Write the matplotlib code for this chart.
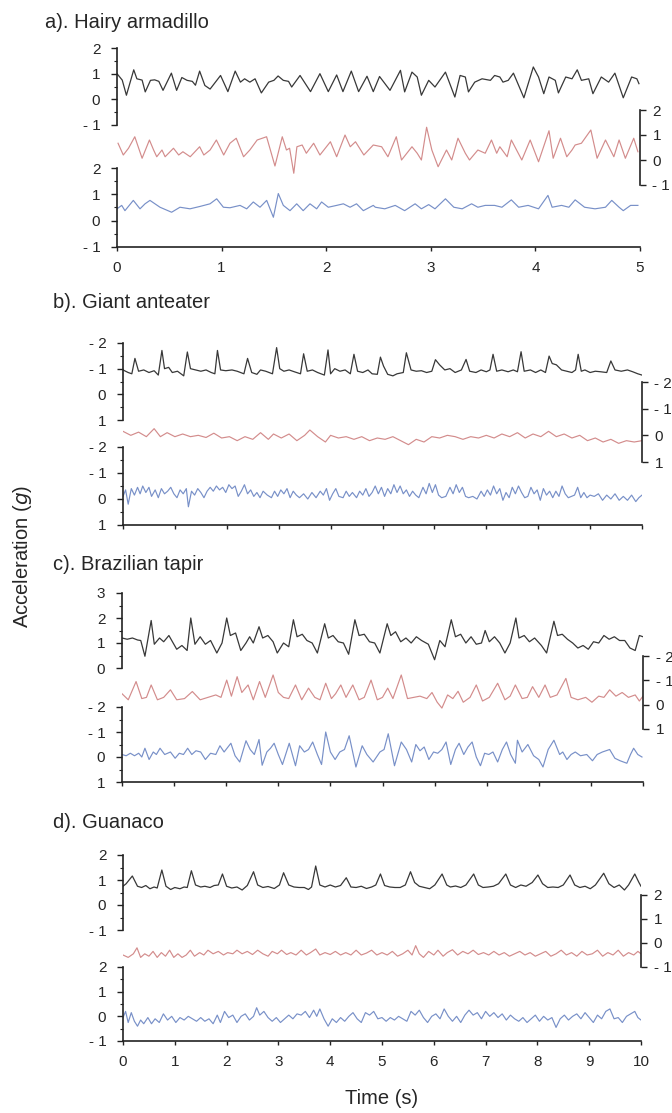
import matplotlib
matplotlib.use("Agg")
import matplotlib.pyplot as plt
from matplotlib.ticker import MultipleLocator

plt.rcParams['font.family'] = ['Liberation Sans', 'DejaVu Sans']

# ---------------- data (time s, acceleration g) ----------------
a_black = [(0.00,1.00),(0.05,0.75),(0.09,0.16),(0.16,1.15),(0.19,0.80),(0.24,0.75),(0.27,0.29),(0.32,0.74),(0.36,0.76),(0.40,0.70),(0.44,0.35),(0.52,1.02),(0.57,0.35),(0.62,0.85),(0.67,0.74),(0.72,0.70),(0.75,0.55),(0.79,1.10),(0.84,0.54),(0.89,0.40),(0.99,0.93),(1.06,0.30),(1.13,1.10),(1.18,0.67),(1.22,0.80),(1.27,0.67),(1.32,0.80),(1.38,0.25),(1.45,0.67),(1.50,0.74),(1.54,0.91),(1.59,0.74),(1.64,0.70),(1.67,0.48),(1.75,0.93),(1.85,0.30),(1.94,1.00),(2.02,0.30),(2.10,0.95),(2.16,0.30),(2.24,1.10),(2.31,0.30),(2.39,0.90),(2.45,0.30),(2.51,0.89),(2.61,0.35),(2.71,1.13),(2.75,0.29),(2.82,1.06),(2.87,0.87),(2.91,0.16),(2.98,0.74),(3.04,0.48),(3.14,1.06),(3.23,0.09),(3.28,0.93),(3.33,0.87),(3.36,0.29),(3.42,0.67),(3.49,0.80),(3.57,0.74),(3.61,0.93),(3.66,0.87),(3.69,0.67),(3.74,0.74),(3.79,1.02),(3.89,0.06),(3.98,1.26),(4.03,0.87),(4.08,0.22),(4.13,0.87),(4.19,0.74),(4.22,0.25),(4.29,0.87),(4.35,0.80),(4.40,1.15),(4.44,0.74),(4.51,0.80),(4.55,0.22),(4.63,0.87),(4.70,0.67),(4.76,1.02),(4.84,0.06),(4.92,0.87),(4.97,0.80),(4.99,0.61)]
a_red = [(0.01,0.67),(0.06,0.20),(0.11,0.47),(0.17,0.93),(0.24,0.07),(0.31,0.80),(0.35,0.40),(0.38,0.13),(0.43,0.40),(0.46,0.13),(0.54,0.47),(0.59,0.20),(0.63,0.33),(0.70,0.13),(0.79,0.53),(0.83,0.20),(0.89,0.40),(0.95,0.80),(1.02,0.20),(1.08,0.67),(1.14,0.87),(1.21,0.13),(1.27,0.40),(1.34,0.80),(1.43,0.93),(1.51,-0.24),(1.58,0.93),(1.62,0.40),(1.65,0.47),(1.69,-0.53),(1.72,0.53),(1.77,0.60),(1.81,0.27),(1.88,0.67),(1.94,0.20),(2.04,0.73),(2.10,0.13),(2.18,1.00),(2.23,0.53),(2.28,0.73),(2.36,0.20),(2.45,0.60),(2.53,0.53),(2.59,0.13),(2.67,0.93),(2.72,0.00),(2.82,0.53),(2.87,0.27),(2.91,0.00),(2.96,1.31),(3.01,0.40),(3.07,-0.27),(3.15,0.40),(3.20,0.00),(3.26,0.87),(3.33,0.27),(3.37,0.00),(3.45,0.40),(3.52,0.27),(3.58,0.80),(3.63,0.27),(3.66,0.53),(3.73,0.13),(3.77,0.80),(3.87,0.00),(3.95,0.80),(4.03,-0.07),(4.13,1.17),(4.17,0.07),(4.24,0.87),(4.30,0.13),(4.35,0.40),(4.38,0.60),(4.44,0.67),(4.53,1.20),(4.59,0.07),(4.67,0.80),(4.75,0.13),(4.80,0.80),(4.86,0.07),(4.94,0.87),(4.98,0.33)]
a_blue = [(0.00,0.45),(0.045,0.58),(0.076,0.38),(0.156,0.77),(0.22,0.45),(0.268,0.64),(0.315,0.77),(0.411,0.51),(0.522,0.32),(0.602,0.51),(0.698,0.45),(0.793,0.54),(0.889,0.64),(0.953,0.83),(1.017,0.51),(1.08,0.49),(1.176,0.58),(1.24,0.45),(1.303,0.71),(1.367,0.51),(1.431,0.77),(1.495,0.13),(1.542,1.03),(1.59,0.58),(1.654,0.38),(1.718,0.64),(1.78,0.38),(1.845,0.64),(1.909,0.45),(1.956,0.71),(2.02,0.51),(2.10,0.58),(2.164,0.64),(2.228,0.51),(2.29,0.64),(2.355,0.38),(2.45,0.58),(2.47,0.51),(2.56,0.45),(2.66,0.58),(2.75,0.38),(2.85,0.64),(2.91,0.45),(2.98,0.61),(3.04,0.45),(3.14,0.83),(3.22,0.51),(3.30,0.45),(3.39,0.64),(3.45,0.51),(3.52,0.58),(3.61,0.58),(3.68,0.51),(3.77,0.79),(3.84,0.51),(3.93,0.58),(4.03,0.45),(4.12,0.96),(4.16,0.51),(4.25,0.58),(4.32,0.51),(4.38,0.79),(4.47,0.51),(4.57,0.45),(4.67,0.51),(4.73,0.77),(4.80,0.51),(4.84,0.38),(4.91,0.58),(4.98,0.58)]

b_black = [(0.00,-0.95),(0.10,-0.85),(0.17,-0.80),(0.23,-1.40),(0.30,-0.90),(0.40,-0.95),(0.50,-0.85),(0.60,-0.92),(0.68,-0.75),(0.75,-1.71),(0.80,-1.00),(0.88,-1.05),(0.95,-0.85),(1.05,-0.90),(1.17,-0.72),(1.24,-1.65),(1.30,-1.00),(1.40,-0.95),(1.50,-0.90),(1.60,-0.95),(1.70,-0.85),(1.77,-0.80),(1.82,-1.71),(1.88,-0.95),(1.98,-0.92),(2.10,-0.95),(2.20,-0.90),(2.33,-0.80),(2.40,-1.40),(2.48,-0.85),(2.58,-0.78),(2.65,-0.95),(2.75,-0.90),(2.88,-0.80),(2.96,-1.82),(3.02,-1.00),(3.10,-0.90),(3.20,-0.95),(3.30,-0.88),(3.42,-0.80),(3.48,-1.58),(3.55,-0.90),(3.65,-0.95),(3.75,-0.85),(3.88,-0.75),(3.95,-1.73),(4.00,-0.80),(4.08,-1.00),(4.18,-0.90),(4.28,-0.95),(4.38,-0.80),(4.45,-1.56),(4.52,-0.90),(4.62,-0.85),(4.72,-0.95),(4.80,-0.80),(4.90,-0.78),(4.96,-1.45),(5.02,-1.10),(5.10,-0.78),(5.20,-0.72),(5.28,-0.80),(5.40,-0.85),(5.46,-1.62),(5.55,-0.95),(5.65,-0.90),(5.75,-0.92),(5.85,-0.85),(5.95,-0.90),(6.02,-1.35),(6.10,-1.15),(6.20,-0.95),(6.30,-1.00),(6.40,-0.85),(6.52,-0.95),(6.61,-1.36),(6.68,-0.90),(6.80,-0.85),(6.90,-0.95),(7.00,-0.88),(7.07,-0.95),(7.13,-1.56),(7.20,-0.90),(7.30,-0.95),(7.42,-0.88),(7.52,-0.95),(7.60,-0.88),(7.67,-1.66),(7.73,-0.90),(7.85,-0.95),(7.95,-0.85),(8.05,-0.95),(8.14,-0.85),(8.21,-1.49),(8.27,-1.20),(8.35,-1.15),(8.45,-0.95),(8.55,-0.90),(8.65,-0.85),(8.72,-0.95),(8.77,-1.56),(8.83,-0.90),(8.90,-0.95),(9.00,-0.85),(9.10,-0.90),(9.20,-0.88),(9.32,-0.85),(9.40,-1.30),(9.48,-0.95),(9.60,-0.90),(9.72,-0.95),(9.82,-0.88),(9.92,-0.80),(10.0,-0.75)]
b_red = [(0.0,-0.15),(0.15,0.00),(0.3,-0.12),(0.45,0.05),(0.6,-0.25),(0.72,0.05),(0.85,-0.10),(1.0,0.05),(1.15,-0.05),(1.3,0.05),(1.45,0.00),(1.6,0.08),(1.75,-0.08),(1.9,0.10),(2.05,0.05),(2.2,0.20),(2.35,0.05),(2.5,0.15),(2.65,-0.10),(2.8,0.15),(2.9,-0.05),(3.05,0.10),(3.2,-0.05),(3.35,0.20),(3.5,0.00),(3.6,-0.20),(3.75,0.05),(3.9,0.25),(4.0,0.00),(4.15,0.10),(4.3,0.05),(4.45,0.15),(4.6,0.05),(4.75,0.20),(4.9,0.10),(5.05,0.15),(5.2,0.05),(5.35,0.20),(5.5,0.35),(5.65,0.15),(5.8,0.25),(5.95,0.05),(6.1,0.10),(6.25,0.00),(6.4,0.05),(6.55,0.15),(6.7,0.05),(6.85,0.10),(7.0,0.00),(7.15,0.10),(7.3,-0.05),(7.45,0.05),(7.6,-0.10),(7.75,0.10),(7.9,-0.05),(8.05,0.05),(8.2,-0.15),(8.35,0.05),(8.5,-0.05),(8.65,0.10),(8.8,0.00),(8.95,0.20),(9.1,0.10),(9.25,0.25),(9.4,0.15),(9.55,0.30),(9.7,0.20),(9.85,0.25),(10.0,0.20)]
b_blue = [(0.00,-0.10),(0.05,-0.35),(0.10,0.20),(0.16,-0.40),(0.22,-0.15),(0.28,-0.45),(0.33,-0.20),(0.38,-0.50),(0.44,-0.25),(0.50,-0.45),(0.55,-0.10),(0.62,-0.35),(0.68,-0.05),(0.74,-0.40),(0.80,-0.20),(0.86,-0.30),(0.92,-0.45),(0.98,-0.20),(1.04,-0.05),(1.10,-0.35),(1.16,-0.20),(1.22,-0.40),(1.26,0.30),(1.32,-0.30),(1.38,-0.15),(1.44,-0.40),(1.50,-0.25),(1.56,-0.05),(1.62,-0.30),(1.68,-0.45),(1.74,-0.30),(1.80,-0.50),(1.86,-0.35),(1.92,-0.45),(1.98,-0.25),(2.04,-0.55),(2.10,-0.40),(2.16,-0.50),(2.22,-0.10),(2.28,-0.30),(2.34,-0.55),(2.40,-0.20),(2.46,-0.35),(2.52,-0.10),(2.58,-0.25),(2.64,-0.05),(2.70,-0.30),(2.78,-0.15),(2.86,-0.05),(2.92,-0.30),(2.98,-0.10),(3.04,-0.35),(3.10,-0.20),(3.16,-0.40),(3.22,-0.05),(3.28,-0.30),(3.34,-0.15),(3.40,-0.05),(3.48,-0.20),(3.56,0.00),(3.64,-0.25),(3.72,-0.05),(3.80,-0.30),(3.86,-0.15),(3.92,-0.40),(3.98,0.05),(4.04,-0.20),(4.10,-0.40),(4.16,-0.10),(4.24,-0.05),(4.30,-0.30),(4.36,-0.10),(4.42,-0.25),(4.50,-0.05),(4.56,-0.30),(4.62,-0.15),(4.68,-0.40),(4.74,-0.10),(4.80,-0.25),(4.86,-0.50),(4.92,-0.20),(4.98,-0.45),(5.04,-0.10),(5.10,-0.40),(5.16,-0.20),(5.22,-0.55),(5.28,-0.25),(5.34,-0.50),(5.40,-0.20),(5.46,-0.35),(5.52,-0.10),(5.58,-0.30),(5.64,-0.15),(5.70,-0.05),(5.78,-0.45),(5.84,-0.20),(5.90,-0.60),(5.96,-0.25),(6.02,-0.55),(6.08,-0.15),(6.14,-0.05),(6.22,-0.10),(6.30,-0.45),(6.36,-0.20),(6.42,-0.55),(6.48,-0.25),(6.54,-0.45),(6.60,-0.10),(6.66,-0.05),(6.74,-0.10),(6.82,0.00),(6.90,-0.30),(6.96,-0.10),(7.02,-0.35),(7.08,-0.15),(7.14,-0.50),(7.20,-0.20),(7.26,-0.40),(7.32,0.05),(7.38,-0.25),(7.44,-0.05),(7.50,-0.45),(7.56,-0.20),(7.62,-0.50),(7.68,-0.25),(7.74,-0.05),(7.80,-0.10),(7.86,-0.45),(7.92,-0.20),(7.98,-0.35),(8.04,0.05),(8.10,-0.40),(8.16,-0.15),(8.22,-0.30),(8.28,-0.05),(8.34,-0.30),(8.40,-0.10),(8.46,-0.50),(8.52,-0.20),(8.58,-0.05),(8.64,-0.10),(8.70,-0.15),(8.76,-0.45),(8.82,-0.05),(8.88,-0.25),(8.94,-0.05),(9.00,-0.15),(9.08,-0.10),(9.16,-0.20),(9.24,0.05),(9.32,-0.15),(9.40,0.00),(9.48,-0.20),(9.56,0.05),(9.64,-0.10),(9.72,0.05),(9.80,-0.15),(9.88,0.10),(9.94,-0.05),(10.0,-0.15)]

c_black = [(0.00,1.20),(0.10,1.15),(0.20,1.20),(0.30,1.12),(0.36,1.10),(0.44,0.47),(0.56,1.90),(0.62,0.95),(0.72,1.20),(0.80,1.05),(0.90,1.30),(1.05,0.75),(1.15,0.90),(1.25,0.70),(1.32,2.00),(1.40,0.95),(1.50,1.25),(1.60,0.95),(1.70,1.10),(1.82,0.60),(1.92,1.00),(2.01,2.00),(2.08,1.30),(2.18,1.40),(2.28,0.70),(2.38,1.00),(2.45,1.25),(2.52,1.00),(2.63,1.65),(2.70,1.20),(2.80,1.30),(2.90,1.05),(2.98,0.60),(3.10,1.00),(3.20,0.85),(3.29,1.93),(3.36,1.25),(3.46,1.35),(3.55,1.10),(3.65,1.00),(3.75,0.60),(3.89,1.77),(3.96,1.20),(4.05,1.30),(4.15,1.05),(4.25,1.00),(4.35,0.55),(4.47,1.93),(4.55,1.30),(4.65,1.35),(4.75,1.05),(4.85,1.00),(4.95,0.60),(5.09,1.77),(5.16,1.30),(5.25,1.45),(5.35,1.05),(5.45,1.20),(5.55,1.00),(5.65,1.25),(5.75,1.10),(5.88,0.95),(6.00,0.33),(6.10,1.10),(6.20,0.85),(6.32,1.93),(6.40,1.25),(6.50,1.35),(6.60,1.00),(6.70,1.25),(6.80,0.95),(6.90,1.00),(6.97,1.50),(7.05,1.05),(7.15,1.25),(7.25,1.00),(7.35,0.60),(7.45,1.00),(7.56,2.00),(7.62,1.20),(7.72,1.30),(7.82,1.05),(7.92,1.20),(8.05,0.90),(8.15,0.60),(8.29,1.87),(8.36,1.30),(8.45,1.35),(8.55,1.15),(8.65,1.00),(8.75,0.80),(8.85,0.90),(8.95,0.75),(9.05,1.05),(9.15,1.00),(9.25,1.30),(9.35,1.15),(9.45,1.25),(9.55,1.10),(9.65,1.10),(9.75,0.80),(9.85,0.70),(9.93,1.30),(10.00,1.25)]
c_red = [(0.00,-0.45),(0.12,-0.20),(0.27,-0.95),(0.38,-0.25),(0.47,-0.30),(0.56,-0.81),(0.68,-0.20),(0.80,-0.30),(0.93,-0.61),(1.05,-0.20),(1.20,-0.25),(1.35,-0.54),(1.50,-0.20),(1.65,-0.30),(1.80,-0.40),(1.90,-0.30),(2.01,-1.01),(2.10,-0.35),(2.21,-1.15),(2.30,-0.50),(2.42,-0.81),(2.52,-0.20),(2.64,-0.95),(2.75,-0.30),(2.90,-1.22),(3.00,-0.50),(3.10,-0.30),(3.20,-0.25),(3.33,-0.81),(3.45,-0.20),(3.58,-0.68),(3.70,-0.30),(3.80,-0.20),(3.91,-0.88),(4.02,-0.25),(4.10,-0.45),(4.20,-0.81),(4.30,-0.30),(4.43,-0.81),(4.55,-0.20),(4.65,-0.30),(4.78,-1.01),(4.90,-0.20),(5.00,-0.30),(5.10,-0.68),(5.20,-0.25),(5.36,-1.22),(5.48,-0.25),(5.60,-0.30),(5.72,-0.35),(5.85,-0.25),(5.95,-0.50),(6.05,-0.10),(6.14,0.14),(6.25,-0.40),(6.35,-0.25),(6.45,-0.55),(6.55,-0.10),(6.68,-0.30),(6.80,-0.81),(6.92,-0.15),(7.05,-0.30),(7.21,-0.88),(7.35,-0.20),(7.45,-0.35),(7.55,-0.81),(7.68,-0.25),(7.78,-0.30),(7.88,-0.74),(8.00,-0.30),(8.12,-0.81),(8.22,-0.30),(8.35,-0.40),(8.52,-1.08),(8.62,-0.30),(8.75,-0.20),(8.90,-0.30),(9.02,-0.10),(9.15,-0.35),(9.25,-0.30),(9.36,-0.61),(9.48,-0.35),(9.60,-0.50),(9.72,-0.30),(9.85,-0.40),(9.93,-0.15),(10.00,-0.35)]
c_blue = [(0.00,-0.10),(0.08,-0.05),(0.16,-0.15),(0.24,-0.05),(0.32,-0.15),(0.38,0.00),(0.44,-0.35),(0.52,0.10),(0.60,-0.20),(0.66,-0.10),(0.73,-0.35),(0.82,-0.10),(0.93,-0.20),(1.02,0.05),(1.10,-0.15),(1.18,-0.10),(1.26,-0.35),(1.34,-0.10),(1.42,-0.25),(1.51,-0.20),(1.60,0.10),(1.70,-0.15),(1.80,-0.10),(1.88,-0.45),(1.96,-0.20),(2.09,-0.55),(2.17,-0.05),(2.26,0.20),(2.38,-0.65),(2.46,-0.30),(2.54,-0.10),(2.63,-0.70),(2.69,0.33),(2.78,-0.20),(2.85,-0.35),(2.92,-0.55),(3.00,-0.10),(3.08,0.30),(3.21,-0.55),(3.27,-0.10),(3.33,0.35),(3.41,-0.45),(3.50,-0.20),(3.58,-0.30),(3.66,-0.60),(3.75,-0.10),(3.83,0.30),(3.91,-1.00),(4.00,-0.20),(4.09,0.10),(4.18,-0.20),(4.27,-0.30),(4.36,-0.85),(4.49,0.40),(4.61,-0.45),(4.70,-0.10),(4.82,0.20),(4.95,-0.20),(5.03,-0.30),(5.11,-0.93),(5.23,0.35),(5.36,-0.60),(5.46,-0.30),(5.56,0.20),(5.64,-0.50),(5.72,-0.25),(5.80,-0.40),(5.89,0.10),(5.98,-0.20),(6.06,-0.15),(6.14,-0.30),(6.22,-0.60),(6.31,0.30),(6.40,-0.30),(6.47,-0.55),(6.56,-0.10),(6.64,-0.40),(6.72,-0.60),(6.80,0.00),(6.88,0.35),(6.96,-0.15),(7.04,-0.10),(7.12,-0.20),(7.21,0.20),(7.30,-0.30),(7.38,-0.60),(7.46,-0.10),(7.55,0.25),(7.59,-0.67),(7.68,-0.20),(7.79,-0.50),(7.90,-0.05),(8.00,0.10),(8.08,0.40),(8.18,-0.30),(8.29,-0.67),(8.40,-0.10),(8.46,-0.20),(8.54,0.10),(8.62,-0.10),(8.70,-0.20),(8.80,-0.05),(8.92,-0.10),(9.03,0.15),(9.12,-0.10),(9.22,-0.20),(9.36,-0.30),(9.46,0.05),(9.56,0.15),(9.69,0.25),(9.76,-0.10),(9.82,-0.35),(9.90,-0.10),(9.98,0.00)]

d_black = [(0.00,0.75),(0.06,0.85),(0.18,1.16),(0.28,0.75),(0.36,0.70),(0.44,0.78),(0.52,0.65),(0.60,0.72),(0.66,0.68),(0.75,1.40),(0.83,0.75),(0.92,0.62),(1.00,0.70),(1.10,0.65),(1.18,0.72),(1.24,0.70),(1.32,1.37),(1.40,0.80),(1.50,0.72),(1.58,0.75),(1.68,0.70),(1.76,0.78),(1.84,0.80),(1.92,1.24),(2.00,0.75),(2.10,0.68),(2.20,0.72),(2.30,0.60),(2.40,0.78),(2.52,1.33),(2.60,0.80),(2.70,0.70),(2.80,0.74),(2.92,0.66),(3.02,0.80),(3.10,1.29),(3.20,0.80),(3.30,0.72),(3.40,0.70),(3.50,0.70),(3.58,0.62),(3.64,0.72),(3.72,1.56),(3.80,0.80),(3.90,0.72),(4.00,0.80),(4.10,0.72),(4.20,0.78),(4.31,1.09),(4.40,0.72),(4.50,0.70),(4.60,0.75),(4.70,0.66),(4.80,0.72),(4.88,0.80),(4.97,1.24),(5.05,0.78),(5.15,0.72),(5.25,0.70),(5.35,0.70),(5.45,0.80),(5.55,1.33),(5.63,0.90),(5.72,0.75),(5.82,0.70),(5.92,0.65),(6.02,0.80),(6.16,1.24),(6.25,0.80),(6.32,0.72),(6.42,0.76),(6.52,0.70),(6.62,0.80),(6.77,1.24),(6.86,0.80),(6.95,0.70),(7.05,0.72),(7.15,0.75),(7.25,0.85),(7.39,1.24),(7.48,0.80),(7.58,0.70),(7.68,0.80),(7.78,0.75),(7.90,0.90),(8.01,1.20),(8.10,0.85),(8.20,0.70),(8.30,0.72),(8.40,0.70),(8.50,0.80),(8.63,1.20),(8.72,0.80),(8.82,0.70),(8.92,0.75),(9.02,0.65),(9.12,0.80),(9.28,1.27),(9.38,0.85),(9.48,0.70),(9.58,0.80),(9.68,0.60),(9.76,0.80),(9.88,1.24),(9.96,0.90),(10.00,0.75)]
d_red = [(0.00,-0.50),(0.10,-0.60),(0.20,-0.45),(0.27,-0.20),(0.34,-0.60),(0.42,-0.45),(0.50,-0.55),(0.58,-0.35),(0.66,-0.60),(0.74,-0.40),(0.82,-0.55),(0.90,-0.30),(0.98,-0.60),(1.06,-0.45),(1.14,-0.60),(1.22,-0.50),(1.30,-0.30),(1.38,-0.55),(1.48,-0.40),(1.56,-0.50),(1.64,-0.30),(1.74,-0.45),(1.84,-0.35),(1.94,-0.50),(2.02,-0.40),(2.12,-0.45),(2.20,-0.30),(2.30,-0.45),(2.40,-0.35),(2.50,-0.48),(2.60,-0.30),(2.70,-0.45),(2.80,-0.55),(2.88,-0.35),(2.98,-0.45),(3.06,-0.30),(3.16,-0.48),(3.24,-0.40),(3.34,-0.50),(3.44,-0.30),(3.54,-0.50),(3.62,-0.40),(3.72,-0.25),(3.80,-0.50),(3.90,-0.40),(4.00,-0.48),(4.10,-0.35),(4.20,-0.50),(4.30,-0.40),(4.40,-0.50),(4.50,-0.30),(4.60,-0.50),(4.70,-0.42),(4.80,-0.30),(4.90,-0.50),(5.00,-0.40),(5.10,-0.50),(5.20,-0.35),(5.30,-0.55),(5.40,-0.45),(5.50,-0.30),(5.58,-0.50),(5.65,-0.11),(5.72,-0.45),(5.80,-0.60),(5.90,-0.35),(6.00,-0.50),(6.08,-0.30),(6.18,-0.55),(6.26,-0.40),(6.36,-0.28),(6.46,-0.50),(6.56,-0.35),(6.66,-0.45),(6.76,-0.30),(6.86,-0.48),(6.96,-0.40),(7.06,-0.50),(7.16,-0.35),(7.26,-0.50),(7.36,-0.40),(7.46,-0.55),(7.56,-0.45),(7.66,-0.35),(7.76,-0.50),(7.86,-0.40),(7.96,-0.55),(8.06,-0.45),(8.16,-0.35),(8.26,-0.55),(8.36,-0.45),(8.46,-0.30),(8.56,-0.50),(8.66,-0.40),(8.76,-0.55),(8.86,-0.35),(8.96,-0.50),(9.06,-0.45),(9.16,-0.30),(9.26,-0.55),(9.36,-0.40),(9.46,-0.50),(9.56,-0.30),(9.66,-0.55),(9.76,-0.40),(9.86,-0.50),(9.94,-0.35),(10.00,-0.45)]
d_blue = [(0.00,-0.05),(0.05,0.20),(0.10,-0.25),(0.16,0.15),(0.22,-0.20),(0.28,-0.40),(0.34,-0.15),(0.40,-0.30),(0.48,-0.05),(0.55,-0.30),(0.62,-0.10),(0.70,-0.25),(0.78,0.10),(0.86,-0.15),(0.94,0.00),(1.02,-0.25),(1.10,-0.05),(1.18,-0.15),(1.26,0.00),(1.34,-0.10),(1.42,-0.20),(1.50,-0.05),(1.58,-0.20),(1.66,-0.10),(1.74,-0.30),(1.82,0.05),(1.88,-0.25),(1.96,0.20),(2.04,-0.05),(2.12,0.05),(2.20,-0.25),(2.28,0.00),(2.36,0.10),(2.44,-0.15),(2.52,0.00),(2.58,0.35),(2.64,0.05),(2.72,0.20),(2.80,-0.05),(2.88,-0.20),(2.96,-0.05),(3.04,-0.25),(3.12,-0.10),(3.20,0.05),(3.28,-0.10),(3.36,0.10),(3.44,0.05),(3.52,0.20),(3.60,-0.05),(3.68,0.25),(3.74,0.00),(3.80,0.30),(3.88,-0.10),(3.96,-0.40),(4.04,-0.10),(4.12,-0.25),(4.20,-0.05),(4.28,-0.20),(4.36,0.00),(4.44,0.15),(4.52,-0.10),(4.60,-0.25),(4.68,0.15),(4.76,0.05),(4.84,0.20),(4.92,-0.10),(5.00,-0.05),(5.08,-0.20),(5.16,-0.05),(5.24,-0.15),(5.32,0.00),(5.40,-0.10),(5.48,-0.20),(5.56,0.20),(5.64,0.05),(5.72,0.25),(5.80,-0.05),(5.88,-0.25),(5.96,0.00),(6.04,0.10),(6.12,-0.10),(6.20,0.30),(6.28,0.00),(6.36,-0.20),(6.44,0.00),(6.52,-0.25),(6.60,0.05),(6.68,0.25),(6.76,0.05),(6.84,0.15),(6.92,-0.10),(7.00,0.20),(7.08,0.00),(7.16,0.15),(7.24,-0.05),(7.32,0.10),(7.40,-0.15),(7.48,0.05),(7.56,-0.10),(7.64,-0.20),(7.72,-0.05),(7.80,-0.25),(7.88,-0.10),(7.96,0.05),(8.04,-0.20),(8.12,0.00),(8.20,-0.15),(8.28,-0.05),(8.36,-0.45),(8.44,-0.10),(8.52,0.05),(8.60,-0.15),(8.68,0.00),(8.76,0.10),(8.84,-0.10),(8.92,0.15),(9.00,-0.05),(9.08,-0.25),(9.16,0.05),(9.24,-0.10),(9.32,0.20),(9.40,0.30),(9.48,-0.10),(9.56,-0.05),(9.64,-0.25),(9.72,0.00),(9.80,0.10),(9.88,0.20),(9.94,-0.05),(10.00,-0.15)]

titles = ["a). Hairy armadillo", "b). Giant anteater", "c). Brazilian tapir", "d). Guanaco"]
ticks_up = [-1, 0, 1, 2]
lbl_up = ["- 1", "0", "1", "2"]
ticks_inv = [-2, -1, 0, 1]
lbl_inv = ["- 2", "- 1", "0", "1"]
ticks_c = [0, 1, 2, 3]
lbl_c = ["0", "1", "2", "3"]
x5 = [0, 1, 2, 3, 4, 5]
x10 = [0, 1, 2, 3, 4, 5, 6, 7, 8, 9, 10]

# ---------------- style ----------------
W, H = 672, 1113
fig = plt.figure(figsize=(W / 100, H / 100), dpi=100)
fig.patch.set_facecolor('white')
C_BLACK = '#383838'
C_RED = '#d38c8c'
C_BLUE = '#7890c8'
C_AX = '#222222'
TXT = '#262626'
TFS = 11


def add_ax(x0, y0, x1, y1):
    ax = fig.add_axes([x0 / W, 1 - y1 / H, (x1 - x0) / W, (y1 - y0) / H])
    ax.patch.set_alpha(0)
    for s in ax.spines.values():
        s.set_visible(False)
        s.set_color(C_AX)
        s.set_linewidth(1.2)
    return ax


def left_axis(ax, ticks, labels, ylim):
    ax.spines['left'].set_visible(True)
    ax.set_ylim(*ylim)
    ax.set_yticks(ticks)
    ax.set_yticklabels(labels)
    ax.yaxis.set_minor_locator(MultipleLocator(0.5))
    ax.tick_params(axis='y', which='major', direction='out', length=4, width=1,
                   color=C_AX, pad=8, labelsize=TFS, labelcolor=TXT)
    ax.tick_params(axis='y', which='minor', direction='out', length=2, width=0.8, color=C_AX)
    ax.tick_params(axis='x', which='both', bottom=False, labelbottom=False)


def right_axis(ax, ticks, labels, ylim):
    ax.spines['right'].set_visible(True)
    ax.set_ylim(*ylim)
    ax.yaxis.tick_right()
    ax.set_yticks(ticks)
    ax.set_yticklabels(labels)
    ax.tick_params(axis='y', which='major', direction='out', length=4, width=1,
                   color=C_AX, pad=5, labelsize=TFS, labelcolor=TXT,
                   left=False, right=True)
    ax.tick_params(axis='x', which='both', bottom=False, labelbottom=False)


def trace(ax, data, color, xmax, lw=0.9):
    ts = [p[0] for p in data]
    vs = [p[1] for p in data]
    ax.plot(ts, vs, color=color, lw=lw, solid_joinstyle='round')
    ax.set_xlim(0, xmax)


panels = [
    dict(title=titles[0], ty=22, tx=45, x0=117, x1=640,
         top=(48, 125), mid=(110, 185), bot=(168, 247),
         tspec=(ticks_up, lbl_up, (-1, 2)), mspec=(ticks_up, lbl_up, (-1, 2)),
         bspec=(ticks_up, lbl_up, (-1, 2)),
         data=(a_black, a_red, a_blue), xmax=5, xt=x5, xl=True),
    dict(title=titles[1], ty=302, tx=53, x0=123, x1=642,
         top=(343, 420), mid=(382, 462), bot=(447, 525),
         tspec=(ticks_inv, lbl_inv, (1, -2)), mspec=(ticks_inv, lbl_inv, (1, -2)),
         bspec=(ticks_inv, lbl_inv, (1, -2)),
         data=(b_black, b_red, b_blue), xmax=10, xt=x10, xl=False),
    dict(title=titles[2], ty=565, tx=53, x0=122, x1=643,
         top=(593, 668), mid=(656, 729), bot=(707, 782),
         tspec=(ticks_c, lbl_c, (0, 3)), mspec=(ticks_inv, lbl_inv, (1, -2)),
         bspec=(ticks_inv, lbl_inv, (1, -2)),
         data=(c_black, c_red, c_blue), xmax=10, xt=x10, xl=False),
    dict(title=titles[3], ty=823, tx=53, x0=123, x1=641,
         top=(855, 930), mid=(895, 967), bot=(967, 1041),
         tspec=(ticks_up, lbl_up, (-1, 2)), mspec=(ticks_up, lbl_up, (-1, 2)),
         bspec=(ticks_up, lbl_up, (-1, 2)),
         data=(d_black, d_red, d_blue), xmax=10, xt=x10, xl=True),
]

for p in panels:
    fig.text(p['tx'] / W, 1 - p['ty'] / H, p['title'], fontsize=14.5, color=TXT,
             ha='left', va='center')
    axt = add_ax(p['x0'], p['top'][0], p['x1'], p['top'][1])
    left_axis(axt, *p['tspec'])
    trace(axt, p['data'][0], C_BLACK, p['xmax'])

    axm = add_ax(p['x0'], p['mid'][0], p['x1'], p['mid'][1])
    right_axis(axm, *p['mspec'])
    trace(axm, p['data'][1], C_RED, p['xmax'], lw=0.85)

    axb = add_ax(p['x0'], p['bot'][0], p['x1'], p['bot'][1])
    left_axis(axb, *p['bspec'])
    axb.spines['bottom'].set_visible(True)
    trace(axb, p['data'][2], C_BLUE, p['xmax'], lw=0.85)
    axb.set_xticks(p['xt'])
    axb.tick_params(axis='x', which='major', bottom=True, labelbottom=p['xl'],
                    direction='out', length=3, width=1, color=C_AX, pad=7,
                    labelsize=TFS, labelcolor=TXT)

fig.text(22 / W, 1 - 556 / H, 'Acceleration ($\\mathit{g}$)', rotation=90,
         fontsize=14.5, color=TXT, ha='center', va='center')
fig.text(382 / W, 1 - 1098 / H, 'Time (s)', fontsize=14.5, color=TXT,
         ha='center', va='center')

fig.savefig('out.png', dpi=100, facecolor='white')
